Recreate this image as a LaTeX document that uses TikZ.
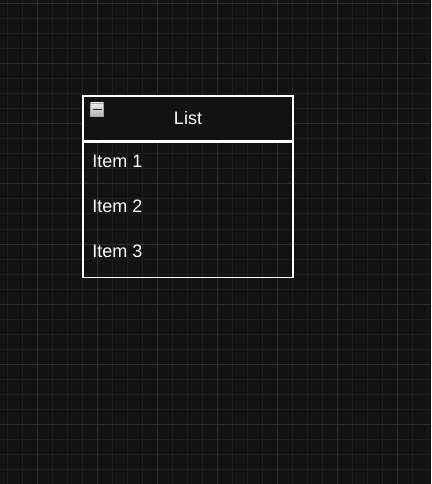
\documentclass[tikz,border=0pt]{standalone}
\usepackage{fontspec}
\setmainfont{Liberation Sans}
\usepackage{tikz}
\usetikzlibrary{positioning}
\definecolor{canvascolor}{HTML}{121212}
\definecolor{minorgrid}{HTML}{1E1E1E}
\definecolor{majorgrid}{HTML}{2F2F2F}

\begin{document}
\begin{tikzpicture}[x=0.75pt, y=-0.75pt,
    every node/.style={font=\fontsize{13.5}{16}\selectfont, text=white},
    listhead/.style={draw=white, line width=1.1pt, fill=canvascolor,
      minimum width=157.5pt, minimum height=33.75pt, inner sep=0pt},
    listbody/.style={draw=white, line width=1.1pt,
      minimum width=157.5pt, minimum height=101.25pt, inner sep=0pt},
    listitem/.style={anchor=west, inner sep=0pt},
    togglebox/.style={draw=gray!70, line width=0.6pt, top color=white!92!black,
      bottom color=gray!60, minimum size=9.75pt, inner sep=0pt}]
  % canvas and grid
  \fill[canvascolor] (0,0) rectangle (431,484);
  \useasboundingbox (0,0) rectangle (431,484);
  \foreach \x in {7,22,...,427}
    \draw[minorgrid, line width=0.75pt] (\x,0) -- (\x,484);
  \foreach \y in {4,19,...,484}
    \draw[minorgrid, line width=0.75pt] (0,\y) -- (431,\y);
  \foreach \x in {37,97,...,397}
    \draw[majorgrid, line width=0.75pt] (\x,0) -- (\x,484);
  \foreach \y in {4,64,...,484}
    \draw[majorgrid, line width=0.75pt] (0,\y) -- (431,\y);

  % the list shape
  \node[listhead] (list) at (188,118.5) {List};
  \node[listbody, below=0pt of list] (body) {};
  \node[listitem] (item1) at (92,161.5) {Item 1};
  \node[listitem] (item2) at (92,206.5) {Item 2};
  \node[listitem] (item3) at (92,251.5) {Item 3};

  % collapse button
  \node[togglebox] (toggle) at (97,109.5) {};
  \draw[black!85, line width=1.4pt] ([xshift=1.8pt]toggle.west) -- ([xshift=-1.8pt]toggle.east);
\end{tikzpicture}
\end{document}
